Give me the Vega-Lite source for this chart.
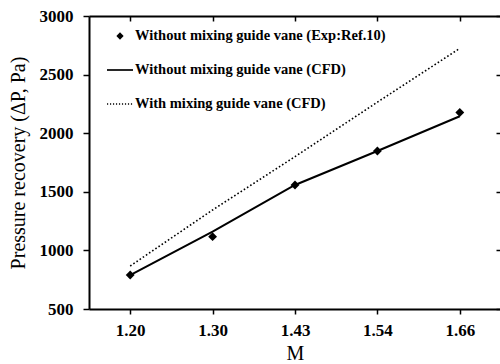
{
  "$schema": "https://vega.github.io/schema/vega-lite/v6.json",
  "width": 412,
  "height": 293,
  "autosize": "none",
  "padding": {"left": 89, "top": 16, "right": 0, "bottom": 55},
  "background": "white",
  "config": {
    "view": {"stroke": null},
    "font": "Liberation Serif",
    "axis": {
      "labelFont": "Liberation Serif",
      "labelFontWeight": "bold",
      "labelFontSize": 17,
      "labelColor": "black",
      "titleFont": "Liberation Serif",
      "titleFontWeight": "normal",
      "titleColor": "black",
      "domainColor": "black",
      "tickColor": "black",
      "grid": false
    }
  },
  "data": {
    "values": [
      {"M": "1.20", "P": 790, "series": "Without mixing guide vane (Exp:Ref.10)"},
      {"M": "1.30", "P": 1117, "series": "Without mixing guide vane (Exp:Ref.10)"},
      {"M": "1.43", "P": 1558, "series": "Without mixing guide vane (Exp:Ref.10)"},
      {"M": "1.54", "P": 1848, "series": "Without mixing guide vane (Exp:Ref.10)"},
      {"M": "1.66", "P": 2177, "series": "Without mixing guide vane (Exp:Ref.10)"},
      {"M": "1.20", "P": 790, "series": "Without mixing guide vane (CFD)"},
      {"M": "1.30", "P": 1160, "series": "Without mixing guide vane (CFD)"},
      {"M": "1.43", "P": 1558, "series": "Without mixing guide vane (CFD)"},
      {"M": "1.54", "P": 1848, "series": "Without mixing guide vane (CFD)"},
      {"M": "1.66", "P": 2145, "series": "Without mixing guide vane (CFD)"},
      {"M": "1.20", "P": 867, "series": "With mixing guide vane (CFD)"},
      {"M": "1.30", "P": 1345, "series": "With mixing guide vane (CFD)"},
      {"M": "1.43", "P": 1800, "series": "With mixing guide vane (CFD)"},
      {"M": "1.54", "P": 2265, "series": "With mixing guide vane (CFD)"},
      {"M": "1.66", "P": 2724, "series": "With mixing guide vane (CFD)"}
    ]
  },
  "layer": [
    {
      "transform": [{"filter": "datum.series === 'Without mixing guide vane (CFD)'"}],
      "mark": {"type": "line", "color": "black", "strokeWidth": 2},
      "encoding": {
        "x": {"field": "M", "type": "ordinal", "scale": {"type": "point", "padding": 0.5},
          "axis": {"orient": "bottom", "title": "M", "titleFontSize": 20, "titlePadding": 5, "labelAngle": 0, "labelPadding": 8, "tickSize": 5, "domainWidth": 2, "tickWidth": 1.5}},
        "y": {"field": "P", "type": "quantitative", "scale": {"domain": [500, 3000], "nice": false, "zero": false},
          "axis": {"orient": "left", "title": "Pressure recovery (ΔP, Pa)", "titleFontSize": 20, "titlePadding": 11, "format": "d", "values": [500, 1000, 1500, 2000, 2500, 3000], "tickSize": 6, "labelPadding": 10, "domainWidth": 2, "tickWidth": 1.5}}
      }
    },
    {
      "transform": [{"filter": "datum.series === 'With mixing guide vane (CFD)'"}],
      "mark": {"type": "line", "color": "black", "strokeWidth": 1.6, "strokeDash": [1.6, 2.2]},
      "encoding": {
        "x": {"field": "M", "type": "ordinal",
          "axis": {"orient": "top", "title": null, "labels": false, "tickSize": -5, "domainWidth": 2, "tickWidth": 1.5}},
        "y": {"field": "P", "type": "quantitative",
          "axis": {"orient": "right", "title": null, "labels": false, "values": [500, 1000, 1500, 2000, 2500, 3000], "tickSize": -5, "domainWidth": 2, "tickWidth": 1.5}}
      }
    },
    {
      "transform": [{"filter": "datum.series === 'Without mixing guide vane (Exp:Ref.10)'"}],
      "mark": {"type": "point", "filled": true, "color": "black", "opacity": 1, "size": 1000},
      "encoding": {
        "x": {"field": "M", "type": "ordinal", "axis": null},
        "y": {"field": "P", "type": "quantitative", "axis": null},
        "shape": {
          "field": "series",
          "type": "nominal",
          "scale": {
            "domain": ["Without mixing guide vane (Exp:Ref.10)", "Without mixing guide vane (CFD)", "With mixing guide vane (CFD)"],
            "range": [
              "M0,-0.28L0.28,0L0,0.28L-0.28,0Z",
              "M-1,-0.065L1,-0.065L1,0.065L-1,0.065Z",
              "M-1,-0.05h0.09v0.1h-0.09Z M-0.77,-0.05h0.09v0.1h-0.09Z M-0.54,-0.05h0.09v0.1h-0.09Z M-0.31,-0.05h0.09v0.1h-0.09Z M-0.08,-0.05h0.09v0.1h-0.09Z M0.15,-0.05h0.09v0.1h-0.09Z M0.38,-0.05h0.09v0.1h-0.09Z M0.61,-0.05h0.09v0.1h-0.09Z M0.84,-0.05h0.09v0.1h-0.09Z"
            ]
          },
          "legend": {
            "orient": "none",
            "legendX": 17,
            "legendY": 6,
            "title": null,
            "padding": 0,
            "symbolSize": 676,
            "labelFont": "Liberation Serif",
            "labelFontWeight": "bold",
            "labelFontSize": 14.5,
            "labelColor": "black",
            "labelOffset": 1,
            "rowPadding": 13,
            "labelLimit": 400,
            "encode": {
              "symbols": {
                "fill": {"value": "black"},
                "opacity": {"value": 1}
              }
            }
          }
        }
      }
    }
  ],
  "resolve": {"axis": {"x": "independent", "y": "independent"}}
}
